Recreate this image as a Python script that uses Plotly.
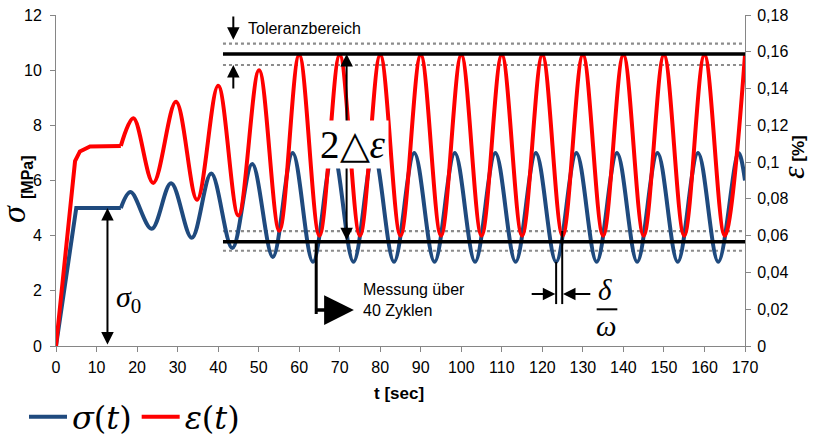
import plotly.graph_objects as go

# ---------------------------------------------------------------- data ----
# Stress sigma(t) [MPa]: loading ramp and hold
sig_ramp_t = [0, 5, 16]
sig_ramp_v = [0, 5.0, 5.0]
# Stress sigma(t) [MPa]: cyclic part, turning points
sig_cyc_t = [16, 18.4, 23.6, 28.4, 33.5, 38.3, 43.5, 48.4, 53.5, 58.4,
             63.4, 68.4, 73.4, 78.4, 83.4, 88.4, 93.4, 98.4, 103.4, 108.4,
             113.4, 118.4, 123.4, 128.4, 133.4, 138.4, 143.4, 148.4, 153.4,
             158.4, 163.4, 168.4, 170]
sig_cyc_v = [5.0, 5.58, 4.25, 5.9, 3.92, 6.25, 3.55, 6.6, 3.23, 7.0,
             3.05, 7.0, 3.05, 7.0, 3.05, 7.0, 3.05, 7.0, 3.05, 7.0,
             3.05, 7.0, 3.05, 7.0, 3.05, 7.0, 3.05, 7.0, 3.05,
             7.0, 3.05, 7.0, 6.0]

# Strain eps(t) [%]: loading ramp and hold
eps_ramp_t = [0, 4.7, 5.9, 8.4, 16]
eps_ramp_v = [0, 0.1005, 0.1058, 0.1085, 0.1088]
# Strain eps(t) [%]: cyclic part, turning points
eps_cyc_t = [16, 19.1, 24.0, 29.6, 34.8, 40.0, 45.0, 50.1, 55.1,
             60, 65, 70, 75, 80, 85, 90, 95, 100, 105, 110, 115, 120,
             125, 130, 135, 140, 145, 150, 155, 160, 165, 170]
eps_cyc_v = [0.1088, 0.1238, 0.0887, 0.1328, 0.0795, 0.1415, 0.071, 0.150, 0.0627,
             0.1583, 0.060, 0.1583, 0.060, 0.1583, 0.060, 0.1583, 0.060, 0.1583,
             0.060, 0.1583, 0.060, 0.1583, 0.060, 0.1583, 0.060, 0.1583, 0.060,
             0.1583, 0.060, 0.1583, 0.060, 0.1583]

# Axis ticks
t_ticks = [0, 10, 20, 30, 40, 50, 60, 70, 80, 90, 100, 110, 120, 130, 140, 150, 160, 170]
sig_ticks = [0, 2, 4, 6, 8, 10, 12]
eps_ticks = [0, 0.02, 0.04, 0.06, 0.08, 0.10, 0.12, 0.14, 0.16, 0.18]
eps_ticktext = ["0", "0,02", "0,04", "0,06", "0,08", "0,1", "0,12", "0,14", "0,16", "0,18"]

# Strain amplitude limits [%] and tolerance band around them
eps_max = 0.1588
eps_min = 0.0567
tol_band = [0.1644, 0.1528, 0.0625, 0.0518]
band_start = 41.2

# Phase shift delta/omega between stress and strain minimum [s]
t_sig_min = 123.4
t_eps_min = 124.9

# ------------------------------------------------------------- styling ----
W, H = 817, 438
L, R, T, B = 56, 72, 15, 92
BLUE = "#1F4A7E"
RED = "#FF0000"
AXIS = "#868686"
SANS = "Liberation Sans, Arial, sans-serif"
SERIF = "Liberation Serif, Times New Roman, serif"
T_MAX, SIG_MAX, EPS_MAX = 170, 12, 0.18


def px_x(px):
    return (px - L) / (W - L - R)


def px_y(py):
    return (H - B - py) / (H - B - T)


fig = go.Figure()

fig.add_trace(go.Scatter(x=sig_ramp_t, y=sig_ramp_v, mode="lines",
                         line=dict(color=BLUE, width=4), legendgroup="sig",
                         showlegend=False, hoverinfo="skip"))
fig.add_trace(go.Scatter(x=sig_cyc_t, y=sig_cyc_v, mode="lines",
                         line=dict(color=BLUE, width=4, shape="spline"),
                         legendgroup="sig", name="<i>σ</i>(<i>t</i>)"))
fig.add_trace(go.Scatter(x=eps_ramp_t, y=eps_ramp_v, mode="lines", yaxis="y2",
                         line=dict(color=RED, width=4), legendgroup="eps",
                         showlegend=False, hoverinfo="skip"))
fig.add_trace(go.Scatter(x=eps_cyc_t, y=eps_cyc_v, mode="lines", yaxis="y2",
                         line=dict(color=RED, width=4, shape="spline"),
                         legendgroup="eps", name="<i>ε</i>(<i>t</i>)"))

# tolerance band (dotted) and amplitude limits (solid)
for yv in tol_band:
    fig.add_shape(type="line", xref="x", yref="y2", x0=band_start, x1=T_MAX,
                  y0=yv, y1=yv, layer="below",
                  line=dict(color="#8C8C8C", width=2.2, dash="dot"))
for yv in (eps_max, eps_min):
    fig.add_shape(type="line", xref="x", yref="y2", x0=band_start, x1=T_MAX,
                  y0=yv, y1=yv, layer="above", line=dict(color="black", width=3.5))


def arrow(x, y, ax, ay, yref="y", both=False, size=1.25, width=2):
    fig.add_annotation(x=x, y=y, ax=ax, ay=ay, xref="x", yref=yref,
                       axref="x", ayref=yref, text="", showarrow=True,
                       arrowhead=2, startarrowhead=2,
                       arrowside="end+start" if both else "end",
                       arrowsize=size, startarrowsize=size,
                       arrowwidth=width, arrowcolor="black")


def label(text, x, y, size=16, family=SANS, xanchor="center", yanchor="middle",
          angle=0, **kw):
    fig.add_annotation(x=px_x(x), y=px_y(y), xref="paper", yref="paper",
                       text=text, showarrow=False, xanchor=xanchor,
                       yanchor=yanchor, textangle=angle,
                       font=dict(size=size, family=family, color="black"), **kw)


# Toleranzbereich markers
arrow(43.75, 11.1, 43.75, 12.0)
arrow(43.75, 10.19, 43.75, 9.28)
label("Toleranzbereich", 246, 28, size=16, xanchor="left")

# 2 delta eps
arrow(71.7, eps_max, 71.7, eps_min, yref="y2", both=True)
label("2△<i>ε</i>", 353, 145, size=39, family=SERIF, bgcolor="white", borderpad=2)

# sigma_0
arrow(12.7, 5.0, 12.7, 0.0, both=True)
label("<i>σ</i><sub>0</sub>", 114, 299, size=30, family=SERIF, xanchor="left")

# Messung über 40 Zyklen
fig.add_shape(type="line", xref="x", yref="y", x0=64.2, x1=64.2, y0=3.78, y1=1.16,
              line=dict(color="black", width=3))
arrow(73.5, 1.305, 63.9, 1.305, size=1.7, width=3.5)
label("Messung über<br>40 Zyklen", 361, 300, size=16, xanchor="left", align="left")

# delta / omega
fig.add_shape(type="line", xref="x", yref="y", x0=t_sig_min, x1=t_sig_min,
              y0=3.05, y1=1.52, line=dict(color="black", width=2))
fig.add_shape(type="line", xref="x", yref="y", x0=t_eps_min, x1=t_eps_min,
              y0=4.17, y1=1.52, line=dict(color="black", width=2))
arrow(t_sig_min - 0.2, 1.885, 117.0, 1.885)
arrow(t_eps_min + 0.2, 1.885, 132.2, 1.885)
label("<i>δ</i>", 605, 290, size=29, family=SERIF)
fig.add_shape(type="line", xref="x", yref="y", x0=133.4, x1=138.5, y0=1.33, y1=1.33,
              line=dict(color="black", width=2))
label("<i>ω</i>", 606, 326, size=29, family=SERIF)

# axis titles
label("<b>t [sec]</b>", 399, 393, size=17)
label("<i>σ</i>", 13, 214, size=34, family=SERIF, angle=-90)
label("<b>[MPa]</b>", 27, 177, size=16, angle=-90)
label("<span style='font-family:Liberation Serif;font-size:32px'><i>ε</i></span>"
      "<b> [%]</b>", 793, 157, size=17, angle=-90)

axis_common = dict(showgrid=False, zeroline=False, showline=True, linecolor=AXIS,
                   linewidth=1, ticks="outside", ticklen=5, tickcolor=AXIS,
                   tickfont=dict(size=16, family=SANS, color="black"))

fig.update_layout(
    width=W, height=H,
    margin=dict(l=L, r=R, t=T, b=B, pad=0, autoexpand=False),
    paper_bgcolor="white", plot_bgcolor="white",
    font=dict(family=SANS, color="black"),
    xaxis=dict(range=[0, T_MAX], tickvals=t_ticks, automargin=False,
               ticklabelstandoff=2, **axis_common),
    yaxis=dict(range=[0, SIG_MAX], tickvals=sig_ticks, automargin=False,
               ticklabelstandoff=5, **axis_common),
    yaxis2=dict(range=[0, EPS_MAX], tickvals=eps_ticks, ticktext=eps_ticktext,
                overlaying="y", side="right", automargin=False,
                ticklabelstandoff=3, **axis_common),
    showlegend=True,
    legend=dict(orientation="h", x=px_x(24), y=px_y(417), xanchor="left",
                yanchor="middle",
                font=dict(size=32, family="DejaVu Serif, serif", color="black"),
                bgcolor="rgba(0,0,0,0)", itemwidth=38, tracegroupgap=0),
)

fig.write_html("out.html")
